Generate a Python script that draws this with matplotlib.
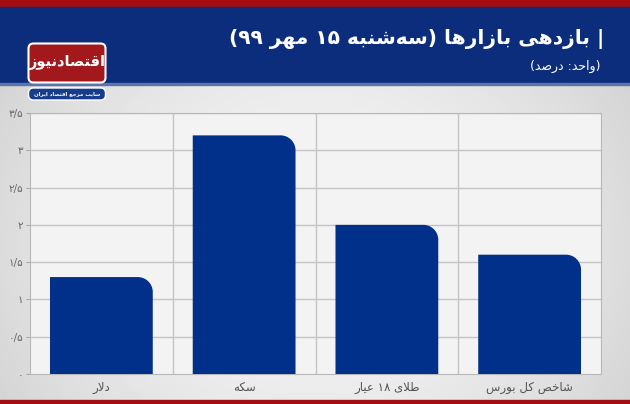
#!/usr/bin/env python3
# Bar chart of market returns (Tuesday 15 Mehr 99), Persian labels.
# matplotlib does no Arabic shaping, so a small helper maps letters to
# presentation forms and puts them in visual (left-to-right) order.

import re
import numpy as np
import matplotlib
matplotlib.use("Agg")
import matplotlib.pyplot as plt
from matplotlib.patches import Rectangle, FancyBboxPatch, PathPatch
from matplotlib.path import Path

categories = ["دلار", "سکه", "طلای ۱۸ عیار", "شاخص کل بورس"]
values = [1.3, 3.2, 2.0, 1.6]
yticks = [0, 0.5, 1, 1.5, 2, 2.5, 3, 3.5]
ytick_labels = ["۰", "۰/۵", "۱", "۱/۵", "۲", "۲/۵", "۳", "۳/۵"]
title = "| بازدهی بازارها (سه\u200cشنبه ۱۵ مهر ۹۹)"
subtitle = "(واحد: درصد)"
logo_text = "اقتصادنیوز"
logo_sub = "سایت مرجع اقتصاد ایران"

# isolated, final, initial, medial
FORMS = {
    'ا': (0xFE8D, 0xFE8E, None, None),
    'ب': (0xFE8F, 0xFE90, 0xFE91, 0xFE92),
    'ت': (0xFE95, 0xFE96, 0xFE97, 0xFE98),
    'ث': (0xFE99, 0xFE9A, 0xFE9B, 0xFE9C),
    'ج': (0xFE9D, 0xFE9E, 0xFE9F, 0xFEA0),
    'ح': (0xFEA1, 0xFEA2, 0xFEA3, 0xFEA4),
    'خ': (0xFEA5, 0xFEA6, 0xFEA7, 0xFEA8),
    'د': (0xFEA9, 0xFEAA, None, None),
    'ذ': (0xFEAB, 0xFEAC, None, None),
    'ر': (0xFEAD, 0xFEAE, None, None),
    'ز': (0xFEAF, 0xFEB0, None, None),
    'س': (0xFEB1, 0xFEB2, 0xFEB3, 0xFEB4),
    'ش': (0xFEB5, 0xFEB6, 0xFEB7, 0xFEB8),
    'ص': (0xFEB9, 0xFEBA, 0xFEBB, 0xFEBC),
    'ض': (0xFEBD, 0xFEBE, 0xFEBF, 0xFEC0),
    'ط': (0xFEC1, 0xFEC2, 0xFEC3, 0xFEC4),
    'ظ': (0xFEC5, 0xFEC6, 0xFEC7, 0xFEC8),
    'ع': (0xFEC9, 0xFECA, 0xFECB, 0xFECC),
    'غ': (0xFECD, 0xFECE, 0xFECF, 0xFED0),
    'ف': (0xFED1, 0xFED2, 0xFED3, 0xFED4),
    'ق': (0xFED5, 0xFED6, 0xFED7, 0xFED8),
    'ل': (0xFEDD, 0xFEDE, 0xFEDF, 0xFEE0),
    'م': (0xFEE1, 0xFEE2, 0xFEE3, 0xFEE4),
    'ن': (0xFEE5, 0xFEE6, 0xFEE7, 0xFEE8),
    'ه': (0xFEE9, 0xFEEA, 0xFEEB, 0xFEEC),
    'و': (0xFEED, 0xFEEE, None, None),
    'ک': (0xFB8E, 0xFB8F, 0xFB90, 0xFB91),
    'ی': (0xFBFC, 0xFBFD, 0xFBFE, 0xFBFF),
}


def shape(text):
    res = []
    prev_joins = False
    i = 0
    n = len(text)
    while i < n:
        c = text[i]
        if c not in FORMS:
            if c != '\u200c':
                res.append(c)
            prev_joins = False
            i += 1
            continue
        if c == 'ل' and i + 1 < n and text[i + 1] == 'ا':
            res.append(chr(0xFEFC if prev_joins else 0xFEFB))
            prev_joins = False
            i += 2
            continue
        nxt = text[i + 1] if i + 1 < n else ''
        iso, fin, ini, med = FORMS[c]
        next_join = ini is not None and nxt in FORMS
        if prev_joins and next_join:
            f = med
        elif prev_joins:
            f = fin
        elif next_join:
            f = ini
        else:
            f = iso
        res.append(chr(f))
        prev_joins = next_join
        i += 1
    return ''.join(res)


def fa(text):
    s = shape(text)[::-1]
    s = re.sub(r'[0-9\u06F0-\u06F9]+', lambda m: m.group(0)[::-1], s)
    return s.translate(str.maketrans('()', ')('))


plt.rcParams['font.family'] = ['DejaVu Sans']

W, H = 630, 404
fig = plt.figure(figsize=(W / 100, H / 100), dpi=100)

# background / decoration in pixel coordinates
bg = fig.add_axes([0, 0, 1, 1])
bg.set_xlim(0, W)
bg.set_ylim(H, 0)
bg.axis('off')
xx, yy = np.meshgrid(np.linspace(-1, 1, 200), np.linspace(-1, 1, 100))
grad = 0.95 - 0.09 * xx ** 2 - 0.03 * yy ** 2
bg.imshow(grad, cmap='gray', vmin=0, vmax=1, extent=[0, W, H, 84], aspect='auto', zorder=0)
bg.add_patch(Rectangle((0, 0), W, 7, color='#a30d12', zorder=1))
bg.add_patch(Rectangle((0, 7), W, 77, color='#0c2d7c', zorder=1))
bg.add_patch(Rectangle((0, 83), W, 1.5, color='#5c74aa', zorder=1))
bg.add_patch(Rectangle((0, 400), W, 4, color='#a30d12', zorder=1))

bg.text(604, 39, fa(title), color='white', fontsize=14.5, fontweight='bold',
        ha='right', va='center', zorder=3)
bg.text(601, 66, fa(subtitle), color='white', fontsize=9,
        ha='right', va='center', zorder=3)

# logo
bg.add_patch(FancyBboxPatch((30, 45), 74, 36, boxstyle='round,pad=1.5,rounding_size=5',
                            fc='#a3181b', ec='white', lw=1.5, zorder=2))
bg.text(67, 62, fa(logo_text), color='white', fontsize=10.5, fontweight='bold',
        ha='center', va='center', zorder=3)
bg.add_patch(FancyBboxPatch((30, 89.5), 74, 9, boxstyle='round,pad=1.5,rounding_size=5',
                            fc='#163c8c', ec='white', lw=1, zorder=2))
bg.text(67, 94, fa(logo_sub), color='white', fontsize=3.9, fontweight='bold',
        ha='center', va='center', zorder=3)

# chart
ax = fig.add_axes([30 / W, (H - 374) / H, 571 / W, (374 - 113) / H])
ax.set_facecolor('#f3f3f3')
x = np.arange(len(categories))
bars = ax.bar(x, values, width=0.72, color='#01308a', zorder=3)

# replace each bar with a version that has a rounded top-right corner
rx, ry = 0.105, 0.2
k = 0.5523
for r in bars:
    x0, y0 = r.get_x(), r.get_y()
    x1, h = x0 + r.get_width(), r.get_height()
    verts = [(x0, y0), (x0, h), (x1 - rx, h),
             (x1 - rx + k * rx, h), (x1, h - ry + k * ry), (x1, h - ry),
             (x1, y0), (x0, y0)]
    codes = [Path.MOVETO, Path.LINETO, Path.LINETO,
             Path.CURVE4, Path.CURVE4, Path.CURVE4,
             Path.LINETO, Path.CLOSEPOLY]
    ax.add_patch(PathPatch(Path(verts, codes), fc='#01308a', ec='none', zorder=3))
    r.set_visible(False)

ax.set_xlim(-0.5, len(categories) - 0.5)
ax.set_ylim(0, 3.5)
ax.set_yticks(yticks)
ax.set_yticklabels(ytick_labels)
ax.set_xticks(x)
ax.set_xticklabels([fa(c) for c in categories])
ax.tick_params(axis='y', length=3, color='#aaaaaa', labelsize=7.5, labelcolor='#666666', pad=2)
ax.tick_params(axis='x', length=0, labelsize=8.5, labelcolor='#555555', pad=5)
for yv in yticks[1:]:
    ax.axhline(yv, color='#c4c4c4', lw=1, zorder=1)
for xv in x[:-1] + 0.5:
    ax.axvline(xv, color='#c4c4c4', lw=1, zorder=1)
for s in ['left', 'right', 'bottom', 'top']:
    ax.spines[s].set_color('#b8b8b8')

fig.savefig('out.png', dpi=100)
